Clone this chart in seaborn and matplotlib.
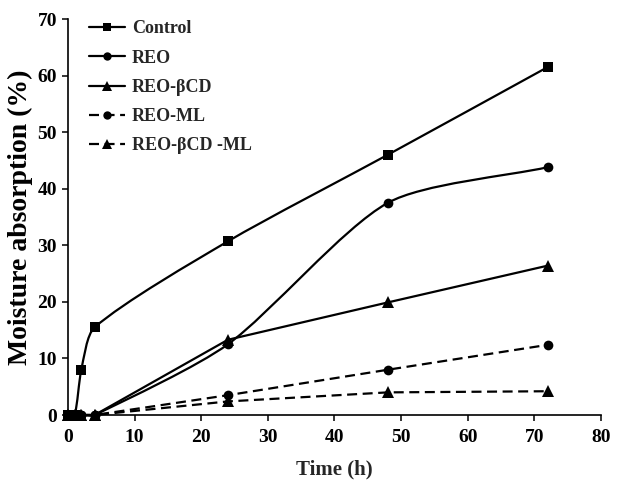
import numpy as np
import pandas as pd
import matplotlib
matplotlib.use("Agg")
import matplotlib.pyplot as plt
from matplotlib.path import Path
from matplotlib.patches import PathPatch
from matplotlib.lines import Line2D
import seaborn as sns

# ---- data ----
times = [0, 1, 2, 4, 24, 48, 72]
control = [0, 0, 8.0, 15.5, 30.7, 46.0, 61.5]
reo = [0, 0, 0, 0, 12.5, 37.5, 43.8]
reo_bcd = [0, 0, 0, 0, 13.3, 19.9, 26.4]
reo_ml = [0, 0, 0, 0, 3.5, 8.0, 12.4]
reo_bcd_ml = [0, 0, 0, 0, 2.4, 4.0, 4.2]

labels = ["Control", "REO", "REO-\u03b2CD", "REO-ML", "REO-\u03b2CD -ML"]
x_ticks = [0, 10, 20, 30, 40, 50, 60, 70, 80]
y_ticks = [0, 10, 20, 30, 40, 50, 60, 70]

sns.set_style("ticks")
plt.rcParams["font.family"] = ["Liberation Serif", "DejaVu Serif"]
plt.rcParams["font.weight"] = "bold"

fig = plt.figure(figsize=(6.2, 4.9), dpi=100)
ax = fig.add_axes([68 / 620, 75 / 490, 533 / 620, 396 / 490])
ax.set_xlim(0, 80)
ax.set_ylim(0, 70)

LW = 1.6
DASH = (4.5, 2.5)

series = [
    (labels[0], control, "s", "-", True, 7),
    (labels[1], reo, "o", "-", True, 7),
    (labels[2], reo_bcd, "^", "-", False, 8),
    (labels[3], reo_ml, "o", "--", False, 7),
    (labels[4], reo_bcd_ml, "^", "--", False, 8),
]

# pixel scale per data unit, used for smooth-curve tangents
sx = 533 / 80.0
sy = 396 / 70.0
ARM = 0.25


def smooth_path(xs, ys):
    P = np.column_stack([np.asarray(xs, float) * sx, np.asarray(ys, float) * sy])
    n = len(P)
    verts = [P[0]]
    codes = [Path.MOVETO]
    for i in range(n - 1):
        p0 = P[i - 1] if i > 0 else P[i]
        p1 = P[i]
        p2 = P[i + 1]
        p3 = P[i + 2] if i + 2 < n else P[i + 1]
        d01 = np.linalg.norm(p1 - p0)
        d12 = np.linalg.norm(p2 - p1)
        d23 = np.linalg.norm(p3 - p2)
        f1 = d12 / (d01 + d12) if d01 + d12 > 0 else 0
        f2 = d12 / (d12 + d23) if d12 + d23 > 0 else 0
        c1 = p1 + (p2 - p0) * f1 * ARM
        c2 = p2 - (p3 - p1) * f2 * ARM
        verts += [c1, c2, p2]
        codes += [Path.CURVE4] * 3
    V = np.array(verts)
    V[:, 0] /= sx
    V[:, 1] /= sy
    return Path(V, codes)


handles = []
for i, (lab, vals, mk, ls, smooth, ms) in enumerate(series):
    df = pd.DataFrame({"t": times, "v": vals})
    if smooth:
        patch = PathPatch(smooth_path(times, vals), fill=False, ec="black",
                          lw=LW, zorder=2 + i * 0.1, clip_on=False)
        ax.add_patch(patch)
        sns.lineplot(data=df, x="t", y="v", ax=ax, color="black",
                     linestyle="", marker=mk, markersize=ms,
                     markeredgewidth=0, clip_on=False, zorder=3 + i * 0.1)
    else:
        kw = {}
        if ls == "--":
            kw["dashes"] = DASH
        sns.lineplot(data=df, x="t", y="v", ax=ax, color="black",
                     linewidth=LW, marker=mk, markersize=ms,
                     markeredgewidth=0, clip_on=False, zorder=3 + i * 0.1, **kw)
    h = Line2D([], [], color="black", lw=LW, marker=mk,
               markersize=ms - 1, markeredgewidth=0)
    if ls == "--":
        h.set_dashes(DASH)
    handles.append(h)

for l in ax.get_lines():
    l.set_clip_on(False)

ax.set_xticks(x_ticks)
ax.set_yticks(y_ticks)
ax.set_xticklabels([str(v) for v in x_ticks], fontsize=14, fontweight="bold")
ax.set_yticklabels([str(v) for v in y_ticks], fontsize=14, fontweight="bold")
ax.tick_params(axis="x", direction="out", length=4, width=1.1, pad=6, colors="black")
ax.tick_params(axis="y", direction="out", length=4, width=1.1, pad=4, colors="black")
for s in ["top", "right"]:
    ax.spines[s].set_visible(False)
for s in ["left", "bottom"]:
    ax.spines[s].set_linewidth(1.2)
    ax.spines[s].set_color("black")

ax.set_xlabel("Time (h)", fontsize=15, fontweight="bold", labelpad=10)
ax.set_ylabel("Moisture absorption (%)", fontsize=20, fontweight="bold",
              labelpad=3, color="black")

leg = ax.legend(handles, labels, loc="upper left",
                bbox_to_anchor=(14 / 533, 1.015), frameon=False,
                fontsize=13, handlelength=2.0, handletextpad=0.35,
                labelspacing=0.68, borderaxespad=0)
for t in leg.get_texts():
    t.set_fontweight("bold")

fig.savefig("out.png", dpi=100)
